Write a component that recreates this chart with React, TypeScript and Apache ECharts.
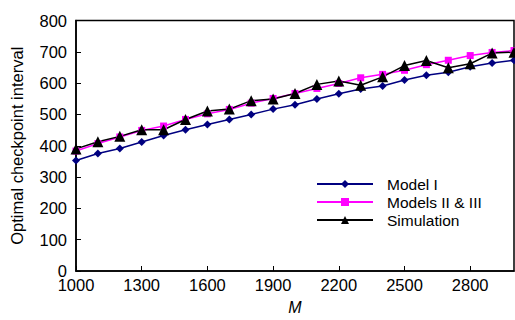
import React, { useEffect, useRef } from "react";
import * as echarts from "echarts";

const mValues = [1000, 1100, 1200, 1300, 1400, 1500, 1600, 1700, 1800, 1900, 2000, 2100, 2200, 2300, 2400, 2500, 2600, 2700, 2800, 2900, 3000];
const model1 = [353, 375, 391, 412, 433, 451, 468, 484, 500, 517, 531, 549, 566, 581, 591, 610, 625, 635, 652, 664, 673];
const models23 = [383, 407, 428, 449, 463, 484, 502, 516, 536, 551, 567, 583, 599, 617, 628, 641, 659, 673, 688, 698, 704];
const simulation = [390, 413, 430, 451, 451, 484, 511, 517, 544, 549, 567, 596, 607, 593, 620, 656, 672, 649, 662, 696, 699];
const seriesNames = ["Model I", "Models II & III", "Simulation"];

const font = "'Liberation Sans', Arial, sans-serif";

export default function App() {
  const ref = useRef<HTMLDivElement>(null);
  useEffect(() => {
    if (!ref.current) return;
    const chart = echarts.init(ref.current, undefined, { renderer: "svg" });
    const pair = (arr: number[]) => arr.map((v, i) => [mValues[i], v]);
    chart.setOption({
      animation: false,
      backgroundColor: "#ffffff",
      textStyle: { fontFamily: font },
      grid: {
        left: 76,
        top: 20.5,
        right: 1,
        bottom: 46,
        show: true,
        borderColor: "#000",
        borderWidth: 1.5,
      },
      legend: {
        orient: "vertical",
        left: 311,
        top: 171,
        itemWidth: 56,
        itemHeight: 10,
        itemGap: 2,
        textStyle: { fontSize: 15.5, color: "#000", fontFamily: font, padding: [0, 0, 0, 9] },
        data: seriesNames,
      },
      xAxis: {
        type: "value",
        min: 1000,
        max: 3000,
        interval: 300,
        name: "M",
        nameLocation: "middle",
        nameGap: 28,
        nameMoveOverlap: false,
        nameTextStyle: { fontSize: 16, fontStyle: "italic", color: "#000", fontFamily: font },
        axisLine: { lineStyle: { color: "#000", width: 1.5 } },
        axisTick: { inside: true, length: 5, lineStyle: { color: "#000", width: 1 } },
        axisLabel: {
          fontSize: 16.5,
          color: "#000",
          margin: 5,
          fontFamily: font,
          showMaxLabel: false,
          formatter: (v: number) => String(v),
        },
        splitLine: { show: false },
      },
      yAxis: {
        type: "value",
        min: 0,
        max: 800,
        interval: 100,
        name: "Optimal checkpoint interval",
        nameLocation: "middle",
        nameGap: 51,
        nameMoveOverlap: false,
        nameTextStyle: { fontSize: 16.5, color: "#000", fontFamily: font },
        axisLine: { lineStyle: { color: "#000", width: 1.5 } },
        axisTick: { inside: true, length: 5, lineStyle: { color: "#000", width: 1 } },
        axisLabel: { fontSize: 16.5, color: "#000", margin: 9, fontFamily: font },
        splitLine: { show: false },
      },
      series: [
        {
          name: seriesNames[0],
          type: "line",
          data: pair(model1),
          symbol: "diamond",
          symbolSize: 8,
          itemStyle: { color: "#000080" },
          lineStyle: { color: "#000080", width: 1.5 },
        },
        {
          name: seriesNames[1],
          type: "line",
          data: pair(models23),
          symbol: "rect",
          symbolSize: 7,
          itemStyle: { color: "#ff00ff" },
          lineStyle: { color: "#ff00ff", width: 1.5 },
        },
        {
          name: seriesNames[2],
          type: "line",
          data: pair(simulation),
          symbol: "triangle",
          symbolSize: 11,
          itemStyle: { color: "#000" },
          lineStyle: { color: "#000", width: 1.5 },
        },
      ],
    });
    return () => chart.dispose();
  }, []);
  return (
    <div
      ref={ref}
      style={{ position: "fixed", left: 0, top: 0, width: 515, height: 320 }}
    />
  );
}
